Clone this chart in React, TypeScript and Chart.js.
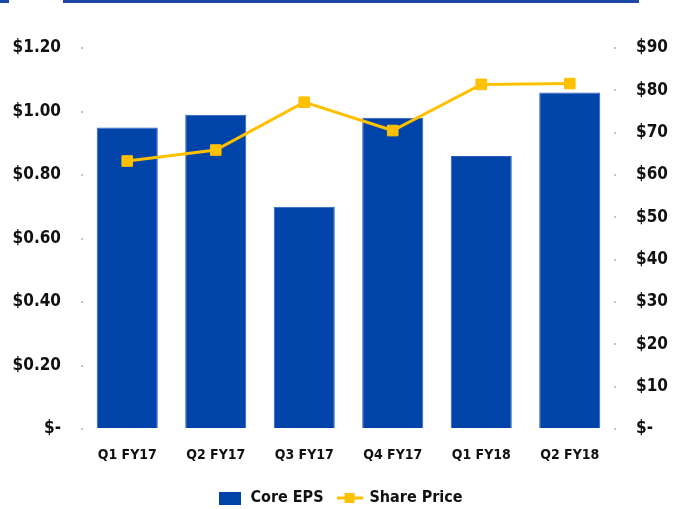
import React, { useEffect, useRef } from "react";
import { Chart, registerables } from "chart.js";

Chart.register(...registerables);

const categories = ["Q1 FY17", "Q2 FY17", "Q3 FY17", "Q4 FY17", "Q1 FY18", "Q2 FY18"];
const coreEPS = [0.95, 0.99, 0.70, 0.98, 0.86, 1.06];
const sharePrice = [63.3, 65.9, 77.2, 70.5, 81.4, 81.6];
const epsTickLabels = ["$-", "$0.20", "$0.40", "$0.60", "$0.80", "$1.00", "$1.20"];
const priceTickLabels = ["$-", "$10", "$20", "$30", "$40", "$50", "$60", "$70", "$80", "$90"];

const BLUE = "#0044AA";
const GOLD = "#FFC000";
const FONT = "'Liberation Sans Narrow', 'DejaVu Sans Condensed', 'Roboto', sans-serif";

function makeBarIcon() {
  const c = document.createElement("canvas");
  c.width = 22;
  c.height = 13;
  const ctx = c.getContext("2d")!;
  ctx.fillStyle = BLUE;
  ctx.fillRect(0, 0, 22, 13);
  return c;
}

function makeLineIcon() {
  const c = document.createElement("canvas");
  c.width = 26;
  c.height = 12;
  const ctx = c.getContext("2d")!;
  ctx.strokeStyle = GOLD;
  ctx.lineWidth = 3;
  ctx.beginPath();
  ctx.moveTo(0, 6);
  ctx.lineTo(26, 6);
  ctx.stroke();
  ctx.fillStyle = GOLD;
  ctx.fillRect(8, 1, 10, 10);
  return c;
}

const topRule = {
  id: "topRule",
  beforeDraw(chart: any) {
    const ctx = chart.ctx;
    ctx.save();
    ctx.fillStyle = "#1E48A6";
    ctx.fillRect(63, 0, 576, 3);
    ctx.fillRect(0, 0, 9, 3);
    ctx.restore();
  },
};

export default function App() {
  const ref = useRef<HTMLCanvasElement | null>(null);

  useEffect(() => {
    if (!ref.current) return;
    const barIcon = makeBarIcon();
    const lineIcon = makeLineIcon();
    const chart = new Chart(ref.current, {
      type: "bar",
      data: {
        labels: categories,
        datasets: [
          {
            type: "bar",
            label: "Core EPS",
            data: coreEPS,
            backgroundColor: BLUE,
            borderColor: "#2C5CC0",
            borderWidth: 1,
            yAxisID: "y",
            categoryPercentage: 1,
            barPercentage: 0.69,
            order: 2,
          },
          {
            type: "line",
            label: "Share Price",
            data: sharePrice,
            borderColor: GOLD,
            backgroundColor: GOLD,
            borderWidth: 3,
            pointStyle: "rect",
            pointRadius: 7.5,
            pointBorderWidth: 1,
            pointBackgroundColor: GOLD,
            pointBorderColor: GOLD,
            yAxisID: "y1",
            order: 1,
          } as any,
        ],
      },
      options: {
        responsive: false,
        animation: false,
        layout: { padding: { top: 48, bottom: -7, left: 0, right: 0 } },
        plugins: {
          tooltip: { enabled: false },
          legend: {
            position: "bottom",
            labels: {
              usePointStyle: true,
              pointStyleWidth: 24,
              padding: 14,
              color: "#111",
              font: { family: FONT, size: 16, weight: "bold" },
              generateLabels: () => [
                { text: "Core EPS", pointStyle: barIcon, fillStyle: BLUE, strokeStyle: BLUE, lineWidth: 0, datasetIndex: 0, hidden: false, fontColor: "#111" },
                { text: "Share Price", pointStyle: lineIcon, fillStyle: GOLD, strokeStyle: GOLD, lineWidth: 0, datasetIndex: 1, hidden: false, fontColor: "#111" },
              ] as any,
            },
          },
        },
        scales: {
          x: {
            grid: { display: false },
            border: { display: false },
            ticks: {
              color: "#111",
              padding: 10,
              maxRotation: 0,
              font: { family: FONT, size: 14, weight: "bold" },
            },
            afterFit: (s: any) => {
              s.height = 47;
            },
          },
          y: {
            position: "left",
            min: 0,
            max: 1.2,
            border: { display: false },
            grid: { drawOnChartArea: false, drawTicks: true, tickLength: 2, color: "#c4c4c4", lineWidth: 2 },
            ticks: {
              stepSize: 0.2,
              color: "#111",
              padding: 20,
              font: { family: FONT, size: 17, weight: "bold" },
              callback: (_v: any, i: number) => epsTickLabels[i],
            },
            afterFit: (s: any) => {
              s.width = 83;
            },
          },
          y1: {
            position: "right",
            min: 0,
            max: 90,
            border: { display: false },
            grid: { drawOnChartArea: false, drawTicks: true, tickLength: 2, color: "#c4c4c4", lineWidth: 2 },
            ticks: {
              stepSize: 10,
              color: "#111",
              padding: 20,
              font: { family: FONT, size: 17, weight: "bold" },
              callback: (_v: any, i: number) => priceTickLabels[i],
            },
            afterFit: (s: any) => {
              s.width = 67;
            },
          },
        },
      },
      plugins: [topRule],
    });
    return () => chart.destroy();
  }, []);

  return (
    <div style={{ position: "absolute", left: 0, top: 0, width: 681, height: 509, background: "#fff" }}>
      <canvas ref={ref} width={681} height={509} />
    </div>
  );
}
